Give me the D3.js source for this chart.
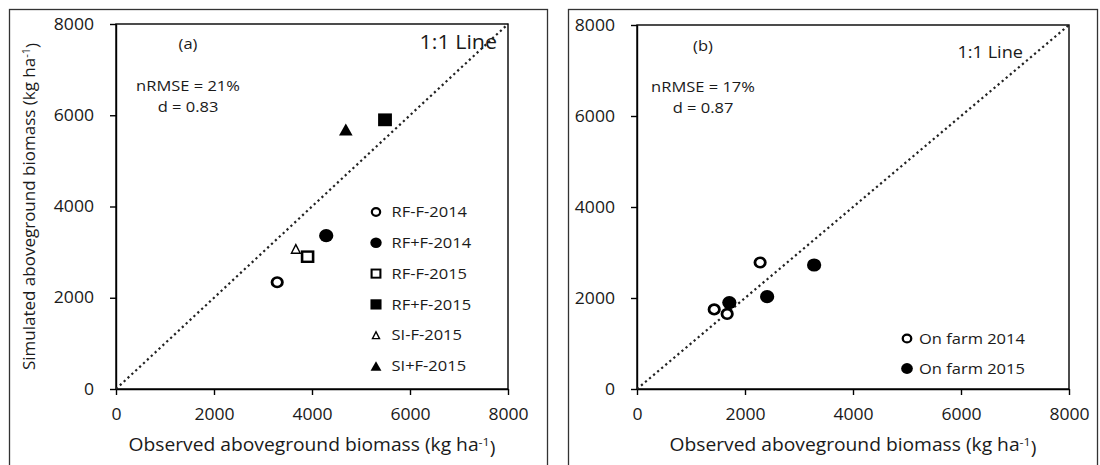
<!DOCTYPE html>
<html>
<head>
<meta charset="utf-8">
<script src="https://cdn.jsdelivr.net/npm/d3@7"></script>
<style>
  html, body { margin: 0; padding: 0; background: #fff; }
  svg { display: block; }
  text { font-family: "Open Sans", "Liberation Sans", sans-serif; fill: #1a1a1a; }
</style>
</head>
<body>
<svg id="chart" width="1100" height="465"></svg>
<script>
// ---- data ----
const ticks = [0, 2000, 4000, 6000, 8000];

// Panel (a): treatments
const seriesA = ["RF-F-2014", "RF+F-2014", "RF-F-2015", "RF+F-2015", "SI-F-2015", "SI+F-2015"];
const observedA = [3290, 4290, 3910, 5490, 3670, 4690];
const simulatedA = [2340, 3360, 2900, 5900, 3070, 5690];
const statsA = ["nRMSE = 21%", "d = 0.83"];

// Panel (b): on-farm trials
const seriesB = ["On farm 2014", "On farm 2015"];
const observedB2014 = [1430, 1670, 2280];
const simulatedB2014 = [1750, 1650, 2780];
const observedB2015 = [1710, 2410, 3280];
const simulatedB2015 = [1900, 2030, 2725];
const statsB = ["nRMSE = 17%", "d = 0.87"];

// ---- styles ----
const SX = 1.1; // horizontal text stretch
const markerStyle = {
  "RF-F-2014": { shape: "circle", filled: false },
  "RF+F-2014": { shape: "circle", filled: true },
  "RF-F-2015": { shape: "square", filled: false },
  "RF+F-2015": { shape: "square", filled: true },
  "SI-F-2015": { shape: "triangle", filled: false, small: true },
  "SI+F-2015": { shape: "triangle", filled: true },
  "On farm 2014": { shape: "circle", filled: false },
  "On farm 2015": { shape: "circle", filled: true }
};

const svg = d3.select("#chart");
svg.append("rect").attr("width", 1100).attr("height", 465).attr("fill", "#fff");

function addText(g, x, y, str, size, anchor) {
  return g.append("text")
    .attr("transform", `translate(${x},${y}) scale(${SX},1)`)
    .attr("dy", "0.35em")
    .attr("text-anchor", anchor || "start")
    .style("font-size", size + "px")
    .text(str);
}

function drawMarker(g, style, cx, cy, k) {
  const m = g.append("g").attr("transform", `translate(${cx},${cy}) scale(1.08,1)`);
  const fill = style.filled ? "#000" : "#fff";
  if (style.shape === "circle") {
    if (style.filled) {
      m.append("circle").attr("r", 6.6 * k).attr("fill", "#000");
    } else {
      m.append("circle").attr("r", 4.8 * k).attr("fill", "#fff")
        .attr("stroke", "#000").attr("stroke-width", 2.6 * k);
    }
  } else if (style.shape === "square") {
    const h = style.filled ? 6.4 * k : 5.1 * k;
    m.append("rect").attr("x", -h).attr("y", -h).attr("width", 2 * h).attr("height", 2 * h)
      .attr("fill", fill)
      .attr("stroke", style.filled ? "none" : "#000").attr("stroke-width", 2.4 * k);
  } else if (style.shape === "triangle") {
    const w = (style.small ? 8.2 : 12.6) * k, h = (style.small ? 8.6 : 12) * k;
    m.append("path")
      .attr("d", `M0,${-h / 2}L${w / 2},${h / 2}L${-w / 2},${h / 2}Z`)
      .attr("fill", fill)
      .attr("stroke", style.filled ? "none" : "#000").attr("stroke-width", 1.3);
  }
}

function titleWithUnit(g, x, y, label, size, rotate) {
  const t = g.append("text")
    .attr("transform", rotate ? `translate(${x},${y}) rotate(-90)` : `translate(${x},${y}) scale(${SX},1)`)
    .attr("dy", "0.35em")
    .attr("text-anchor", "middle")
    .style("font-size", size + "px");
  t.append("tspan").text(label + " (kg ha");
  t.append("tspan").attr("dy", "-0.45em").style("font-size", (size * 0.65) + "px").text("-1");
  t.append("tspan").attr("dy", "0.45em").text(")");
  return t;
}

function panel(cfg) {
  const g = svg.append("g");
  // outer frame
  g.append("rect")
    .attr("x", cfg.frame[0]).attr("y", 9.5)
    .attr("width", cfg.frame[1] - cfg.frame[0]).attr("height", 470)
    .attr("fill", "none").attr("stroke", "#333").attr("stroke-width", 1.3);

  const x = d3.scaleLinear().domain([0, 8000]).range([cfg.left, cfg.right]);
  const y = d3.scaleLinear().domain([0, 8000]).range([cfg.bottom, cfg.top]);

  // plot box
  g.append("rect")
    .attr("x", x(0)).attr("y", y(8000))
    .attr("width", x(8000) - x(0)).attr("height", y(0) - y(8000))
    .attr("fill", "none").attr("stroke", "#000").attr("stroke-width", 1.4);

  const xAxis = g.append("g").attr("transform", `translate(0,${y(0)})`)
    .call(d3.axisBottom(x).tickValues(ticks).tickSize(6).tickSizeOuter(0).tickPadding(14).tickFormat(d3.format("d")));
  const yAxis = g.append("g").attr("transform", `translate(${x(0)},0)`)
    .call(d3.axisLeft(y).tickValues(ticks).tickSize(6).tickSizeOuter(0).tickPadding(14).tickFormat(d3.format("d")));
  [xAxis, yAxis].forEach(a => {
    a.select(".domain").attr("stroke", "#000").attr("stroke-width", 1.4);
    a.selectAll(".tick line").attr("stroke", "#000").attr("stroke-width", 1.4);
    a.selectAll(".tick text")
      .attr("fill", "#1a1a1a")
      .style("font-family", "'Open Sans', sans-serif")
      .style("font-size", "16px")
      .attr("transform", `scale(${SX},1)`);
  });

  // 1:1 line
  g.append("line")
    .attr("x1", x(0)).attr("y1", y(0)).attr("x2", x(8000)).attr("y2", y(8000))
    .attr("stroke", "#222").attr("stroke-width", 2.2).attr("stroke-dasharray", "2.2 3.1");

  // axis titles
  titleWithUnit(g, (cfg.left + cfg.right) / 2, 445, "Observed aboveground biomass", 17.5, false);
  if (cfg.yTitle) titleWithUnit(g, 29, (cfg.top + cfg.bottom) / 2, cfg.yTitle, 17, true);

  // annotations
  addText(g, cfg.tagX, cfg.tagY, cfg.tag, 15, "middle");
  cfg.stats.forEach((s, i) => addText(g, cfg.tagX, cfg.statsY + i * 21, s, 15, "middle"));
  addText(g, cfg.lineLabelX, cfg.lineLabelY, "1:1 Line", cfg.lineLabelSize, "end");

  return { g, x, y };
}

// ---- panel (a) ----
const pa = panel({
  frame: [9.5, 547.5], left: 116, right: 508, top: 24, bottom: 389,
  yTitle: "Simulated aboveground biomass",
  tag: "(a)", tagX: 188, tagY: 44, stats: statsA, statsY: 86,
  lineLabelX: 497, lineLabelY: 42, lineLabelSize: 19.5
});
seriesA.forEach((s, i) => {
  drawMarker(pa.g, markerStyle[s], pa.x(observedA[i]), pa.y(simulatedA[i]), 1);
});
// legend (a)
seriesA.forEach((s, i) => {
  const ly = 212 + i * 30.8;
  drawMarker(pa.g, markerStyle[s], 376, ly, 0.8);
  addText(pa.g, 391.5, ly, s, 15, "start");
});

// ---- panel (b) ----
const pb = panel({
  frame: [568.5, 1097.5], left: 637, right: 1069, top: 25, bottom: 389,
  yTitle: null,
  tag: "(b)", tagX: 703, tagY: 46, stats: statsB, statsY: 87,
  lineLabelX: 1023, lineLabelY: 52, lineLabelSize: 16.5
});
observedB2015.forEach((v, i) => {
  drawMarker(pb.g, markerStyle["On farm 2015"], pb.x(v), pb.y(simulatedB2015[i]), 1);
});
observedB2014.forEach((v, i) => {
  drawMarker(pb.g, markerStyle["On farm 2014"], pb.x(v), pb.y(simulatedB2014[i]), 1);
});
// legend (b)
seriesB.forEach((s, i) => {
  const ly = 338.5 + i * 30;
  drawMarker(pb.g, markerStyle[s], 907, ly, 0.82);
  addText(pb.g, 919, ly, s, 15, "start");
});
</script>
</body>
</html>
